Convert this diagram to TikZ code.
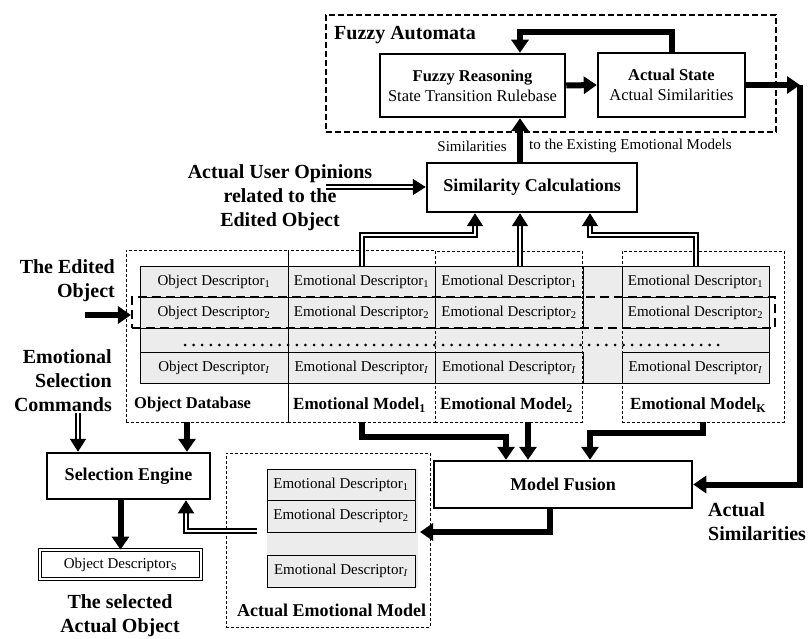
\documentclass[tikz,border=0pt]{standalone}
\usepackage{fontspec}
\setmainfont{Liberation Serif}
\usetikzlibrary{positioning, arrows.meta, calc}

\newcommand{\fsz}[2]{\fontsize{#1}{#2}\selectfont}

\begin{document}
\begin{tikzpicture}[
    x=1pt, y=-1pt,
    block/.style={
        draw, line width=2.5pt, fill=white,
        align=center, inner sep=0pt,
        font=\fsz{18}{21}\bfseries
    },
    cell/.style={
        draw, line width=1pt, fill=gray!15,
        inner sep=0pt, minimum height=31pt,
        font=\fsz{15}{18}
    },
    modelbox/.style={
        draw, line width=0.7pt,
        dash pattern=on 3pt off 2pt,
        inner sep=0pt
    },
    title/.style={font=\fsz{20}{24}\bfseries, align=center, inner sep=0pt},
    mlabel/.style={font=\fsz{17}{20}\bfseries, anchor=west, inner sep=0pt},
    note/.style={font=\fsz{15}{18}, inner sep=0pt},
    flow/.style={line width=6pt, -{Triangle[length=13pt,width=17pt]}},
    link/.style={double, line width=2pt, double distance=2pt,
        -{Triangle[length=13pt,width=16pt]}},
    dots/.style={line width=3pt, line cap=round, dash pattern=on 0pt off 8.6pt}
]
\useasboundingbox (0,0) rectangle (811,639);

% ===================== FUZZY AUTOMATA =====================
\node[draw, line width=1.6pt, dash pattern=on 6pt off 3pt,
      minimum width=450pt, minimum height=117pt] (fa) at (551,73.5) {};
\node[font=\fsz{20}{23}\bfseries, anchor=west, inner sep=0pt] (falabel) at (334,35) {Fuzzy Automata};

\node[block, font=\fsz{16.5}{20}, minimum width=185pt, minimum height=63pt] (fr) at (472.5,85.5)
{\textbf{Fuzzy Reasoning}\\State Transition Rulebase};
\node[block, font=\fsz{16.5}{20}, minimum width=147pt, minimum height=64pt] (as) at (671.5,85)
{\textbf{Actual State}\\Actual Similarities};

\node[block, minimum width=210pt, minimum height=49pt] (sc) at (532,187.5) {Similarity Calculations};
\node[note] (simtxt) at (472,146) {Similarities};
\node[note, anchor=west] (tothe) at (529,146) {to the Existing Emotional Models};

\node[title] (auo) at (280,198) {Actual User Opinions\\related to the\\Edited Object};

% ===================== DATABASE TABLE =====================
\node[draw, line width=1pt, fill=gray!15, minimum width=629pt, minimum height=117pt] (tab) at (454.5,324.5) {};

\node[cell, minimum width=148pt] (o1) at (214,281.5) {Object Descriptor\textsubscript{1}};
\node[cell, minimum width=148pt] (o2) at (214,312.5) {Object Descriptor\textsubscript{2}};
\node[cell, minimum width=148pt] (oi) at (214,367.5) {Object Descriptor\textsubscript{\textit{I}}};

\node[cell, minimum width=147pt] (e11) at (361.5,281.5) {Emotional Descriptor\textsubscript{1}};
\node[cell, minimum width=147pt] (e12) at (361.5,312.5) {Emotional Descriptor\textsubscript{2}};
\node[cell, minimum width=147pt] (e1i) at (361.5,367.5) {Emotional Descriptor\textsubscript{\textit{I}}};

\node[cell, minimum width=148pt] (e21) at (509,281.5) {Emotional Descriptor\textsubscript{1}};
\node[cell, minimum width=148pt] (e22) at (509,312.5) {Emotional Descriptor\textsubscript{2}};
\node[cell, minimum width=148pt] (e2i) at (509,367.5) {Emotional Descriptor\textsubscript{\textit{I}}};

\node[cell, minimum width=147pt] (eK1) at (695.5,281.5) {Emotional Descriptor\textsubscript{1}};
\node[cell, minimum width=147pt] (eK2) at (695.5,312.5) {Emotional Descriptor\textsubscript{2}};
\node[cell, minimum width=147pt] (eKi) at (695.5,367.5) {Emotional Descriptor\textsubscript{\textit{I}}};

\draw[dots] (185,345) -- (723,345);

% model groups
\node[modelbox, minimum width=162pt, minimum height=172pt] (odbbox) at (207,336) {};
\node[modelbox, minimum width=147pt, minimum height=172pt] (em1box) at (361.5,336) {};
\node[modelbox, minimum width=147pt, minimum height=171pt] (em2box) at (508.5,336.5) {};
\node[modelbox, minimum width=162pt, minimum height=171pt] (emKbox) at (703,336.5) {};

\node[mlabel, font=\fsz{16.5}{20}\bfseries] (odblabel) at (134,405) {Object Database};
\node[mlabel] (em1label) at (293,405) {Emotional Model\textsubscript{1}};
\node[mlabel] (em2label) at (440,405) {Emotional Model\textsubscript{2}};
\node[mlabel] (emKlabel) at (630,405) {Emotional Model\textsubscript{K}};

% selected row
\node[draw, line width=2.2pt, dash pattern=on 9pt off 5pt,
      minimum width=643pt, minimum height=31pt, inner sep=0pt] (sel) at (453.5,312.5) {};

\node[title, anchor=east, align=right] (edited) at (115,281) {The Edited\\Object};
\node[title, anchor=east, align=right] (cmds) at (112,381) {Emotional\\Selection\\Commands};

% ===================== LOWER PART =====================
\node[block, minimum width=258pt, minimum height=47pt] (mf) at (563,484.5) {Model Fusion};
\node[block, minimum width=163pt, minimum height=46pt] (se) at (128.5,476) {Selection Engine};
\node[draw, double, line width=0.8pt, double distance=2pt, fill=white,
      minimum width=161pt, minimum height=29pt, inner sep=0pt, font=\fsz{15}{18}] (ods) at (120.5,564.5)
{Object Descriptor\textsubscript{S}};
\node[title] (selobj) at (120,616) {The selected\\Actual Object};

\node[modelbox, minimum width=204pt, minimum height=174pt] (aembox) at (328,540) {};
\node[fill=gray!15, minimum width=151pt, minimum height=118pt, inner sep=0pt] (aembg) at (342.5,528) {};
\node[cell, minimum width=148pt] (a1) at (341,484.5) {Emotional Descriptor\textsubscript{1}};
\node[cell, minimum width=148pt, minimum height=32pt] (a2) at (341,516) {Emotional Descriptor\textsubscript{2}};
\node[cell, minimum width=148pt, minimum height=32pt] (ai) at (341,571) {Emotional Descriptor\textsubscript{\textit{I}}};
\node[mlabel, font=\fsz{18}{21}\bfseries] (aemlabel) at (237,610) {Actual Emotional Model};

\node[title, anchor=west, align=left] (asim) at (708,522) {Actual\\Similarities};

% ===================== CONNECTORS =====================
\coordinate (fbtop) at (520,32);
\coordinate (asr) at (800,85);
\draw[flow] (fr.east) -- (as.west);
\draw[flow] (as.north) |- (fbtop) -- (fbtop |- fr.north);
\draw[flow] (fbtop |- sc.north) -- (fbtop |- fr.south);
\draw[flow] (as.east) -- (asr);
\draw[flow] (asr) |- (mf.east);

% inputs of the similarity calculations
\coordinate (auoend) at (326,187);
\coordinate (k1) at (475,235);
\coordinate (k2) at (520,235);
\coordinate (k3) at (590,235);
\draw[link] (auoend) -- (auoend -| sc.west);
\draw[link] (e11.north) |- (k1) -- (k1 |- sc.south);
\draw[link] (k2 |- e21.north) -- (k2 |- sc.south);
\draw[link] (eK1.north) |- (k3) -- (k3 |- sc.south);

% edited object
\coordinate (edstart) at (85,315);
\draw[flow] (edstart) -- (edstart -| sel.west);

% into model fusion
\coordinate (m1) at (506,437);
\coordinate (m2) at (528,437);
\coordinate (m3) at (590,433);
\draw[flow] (em1box.south) |- (m1) -- (m1 |- mf.north);
\draw[flow] (m2 |- em2box.south) -- (m2 |- mf.north);
\draw[flow] (emKbox.south) |- (m3) -- (m3 |- mf.north);

% selection
\coordinate (dbdown) at (187,430);
\coordinate (cmdstart) at (78,413);
\draw[flow] (dbdown |- odbbox.south) -- (dbdown |- se.north);
\draw[link] (cmdstart) -- (cmdstart |- se.north);
\draw[flow] (ods.north |- se.south) -- (ods.north);

\coordinate (aemout) at (257,531);
\coordinate (k4) at (186,531);
\draw[link] (aemout) -- (k4) -- (k4 |- se.south);

\coordinate (mfo) at (550,532);
\coordinate (aemin) at (420,532);
\draw[flow] (mfo |- mf.south) -- (mfo) -- (aemin);

\end{tikzpicture}
\end{document}
